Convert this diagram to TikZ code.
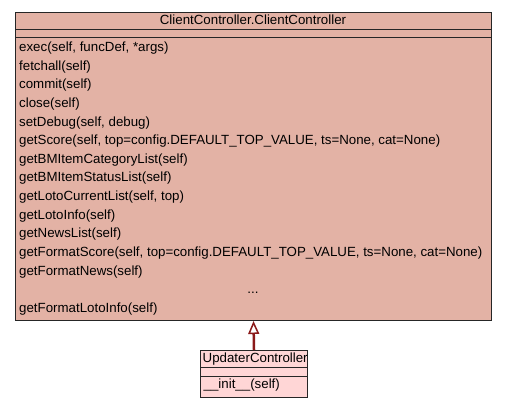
\documentclass[tikz,border=0pt]{standalone}
\usepackage{fontspec}
\setmainfont{Liberation Sans}
\usetikzlibrary{arrows.meta,positioning}
\definecolor{clientfill}{RGB}{227,178,165}
\definecolor{updaterfill}{RGB}{255,214,214}
\definecolor{inheritred}{RGB}{139,26,26}
\tikzset{
	classbox/.style={draw=black!85, line width=1bp, inner sep=0pt, anchor=north west},
	member/.style={anchor=base west, inner sep=0pt, font=\fontsize{13.3bp}{16bp}\selectfont},
	classname/.style={anchor=base, inner sep=0pt, font=\fontsize{13.3bp}{16bp}\selectfont},
	inherit/.style={draw=inheritred, line width=2.5bp, -{Triangle[open, fill=white, length=13bp, width=11bp, line width=1.5bp]}},
}
\begin{document}
\begin{tikzpicture}[x=1bp,y=-1bp]
		\useasboundingbox (0,0) rectangle (507,408);
		% base class
		\node[classbox, fill=clientfill, minimum width=476bp, minimum height=308bp] (client) at (15,12) {};
		\node[classname] (clientname) at (253,24.5) {ClientController.ClientController};
		\draw[black!85] (15,29) -- (491,29);
		\draw[black!85] (15,37) -- (491,37);
		\foreach \m [count=\i] in {{exec(self, funcDef, *args)}, {fetchall(self)}, {commit(self)}, {close(self)}, {setDebug(self, debug)}, {getScore(self, top=config.DEFAULT\_TOP\_VALUE, ts=None, cat=None)}, {getBMItemCategoryList(self)}, {getBMItemStatusList(self)}, {getLotoCurrentList(self, top)}, {getLotoInfo(self)}, {getNewsList(self)}, {getFormatScore(self, top=config.DEFAULT\_TOP\_VALUE, ts=None, cat=None)}, {getFormatNews(self)}}
			\node[member] (m\i) at (19,{51.5+18.64*(\i-1)}) {\m};
		\node[classname] (more) at (253,293.8) {...};
		\node[member] (m15) at (19,312.4) {getFormatLotoInfo(self)};
		% derived class
		\node[classbox, fill=updaterfill, minimum width=107bp, minimum height=47bp] (updater) at (200,350) {};
		\node[member] (updatername) at (202.5,362.5) {UpdaterController};
		\draw[black!85] (200,367) -- (307,367);
		\draw[black!85] (200,376) -- (307,376);
		\node[member] (init) at (203.5,388.5) {\_\_init\_\_(self)};
		\draw[inherit] (updater.north) -- (client.south);
	\end{tikzpicture}
\end{document}
